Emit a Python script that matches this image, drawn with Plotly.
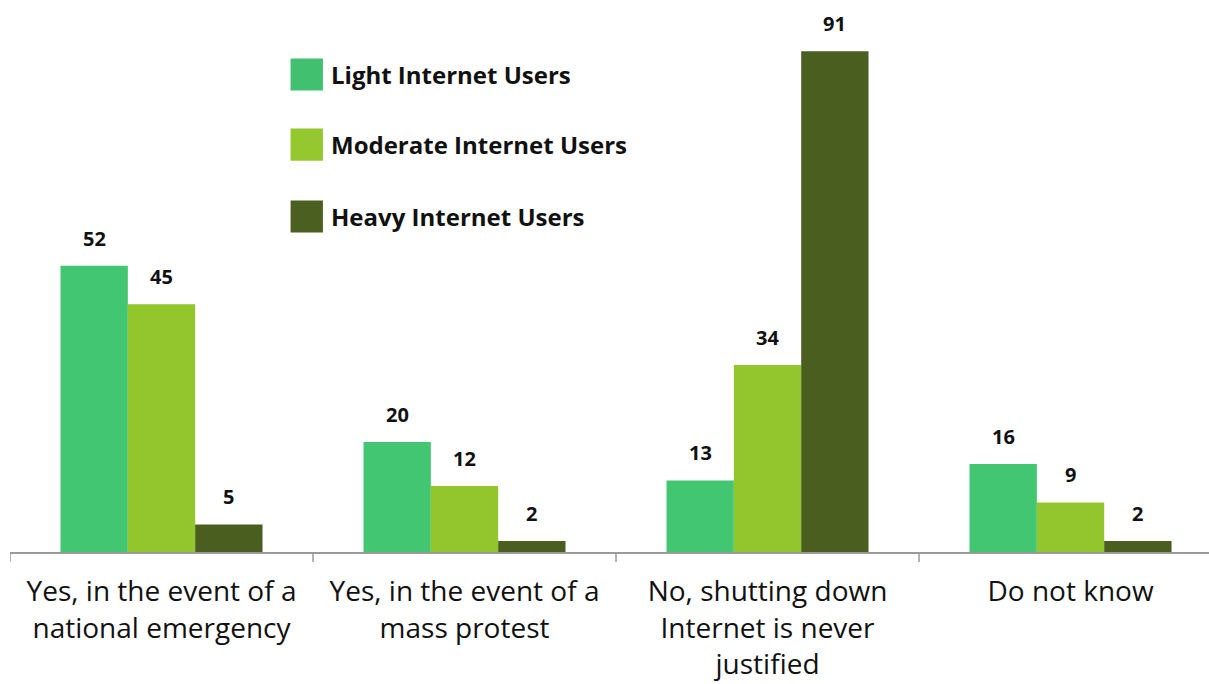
import plotly.graph_objects as go

# Survey answers and the share of each internet-user group (percent)
categories = [
    "Yes, in the event of a<br>national emergency",
    "Yes, in the event of a<br>mass protest",
    "No, shutting down<br>Internet is never<br>justified",
    "Do not know",
]
series_names = ["Light Internet Users", "Moderate Internet Users", "Heavy Internet Users"]
light = [52, 20, 13, 16]
moderate = [45, 12, 34, 9]
heavy = [5, 2, 91, 2]

values = [light, moderate, heavy]
colors = ["#43c672", "#93c52c", "#4a5e1f"]
swatch_colors = ["#41c06f", "#94c82e", "#4b5f20"]

FONT = "'Open Sans', Lato, sans-serif"

fig = go.Figure()
for name, vals, col in zip(series_names, values, colors):
    fig.add_trace(go.Bar(
        x=list(range(len(categories))),
        y=vals,
        name=name,
        marker=dict(color=col, line=dict(width=0)),
        showlegend=False,
    ))

# value labels above each bar
n = len(series_names)
bar_w = (1 - 1 / 3) / n
for k, vals in enumerate(values):
    for i, v in enumerate(vals):
        fig.add_annotation(
            x=i + (k - (n - 1) / 2) * bar_w, y=v,
            text=f"<b>{v}</b>", showarrow=False,
            yanchor="bottom", yshift=12,
            font=dict(family=FONT, size=20, color="#111111"),
        )

# legend drawn as large swatches with bold labels
legend_y = [0.865, 0.738, 0.608]
for name, col, yy in zip(series_names, swatch_colors, legend_y):
    fig.add_shape(
        type="rect", xref="paper", yref="paper",
        x0=0.234, x1=0.261, y0=yy - 0.029, y1=yy + 0.029,
        fillcolor=col, line=dict(width=0),
    )
    fig.add_annotation(
        xref="paper", yref="paper", x=0.266, y=yy,
        xanchor="left", yanchor="middle", showarrow=False,
        text=f"<b>{name}</b>",
        font=dict(family=FONT, size=24, color="#111111"),
    )

fig.update_layout(
    width=1209, height=684,
    margin=dict(l=10, r=0, t=0, b=132),
    paper_bgcolor="white", plot_bgcolor="white",
    barmode="group", bargap=1 / 3, bargroupgap=0,
    xaxis=dict(
        tickmode="array",
        tickvals=list(range(len(categories))),
        ticktext=categories,
        range=[-0.5, 3.457],
        showline=True, linecolor="#9a9a9a", linewidth=1.5,
        ticks="", showgrid=False, zeroline=False,
        ticklabelstandoff=14,
        tickfont=dict(family=FONT, size=28, color="#111111"),
    ),
    yaxis=dict(range=[0, 100.3], visible=False, showgrid=False, zeroline=False),
)

# boundary tick marks below the axis line
for b in [-0.5, 0.5, 1.5, 2.5]:
    fig.add_shape(
        type="line", xref="x", yref="paper", x0=b, x1=b, y0=0, y1=-0.018,
        line=dict(color="#9a9a9a", width=1.5),
    )

fig.write_html("out.html")
